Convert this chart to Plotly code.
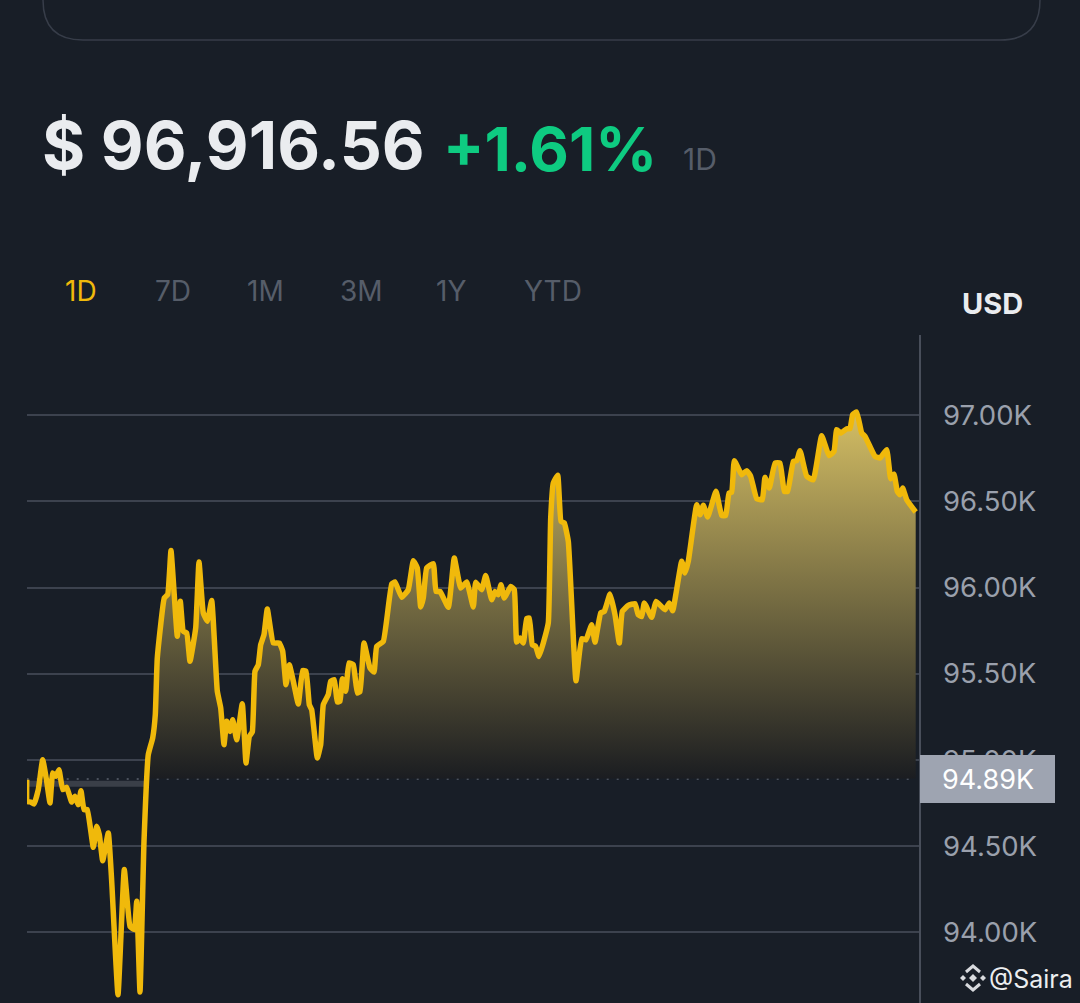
import plotly.graph_objects as go

W, H = 1080, 1003
BG = "#181e27"
LINE_GOLD = "#f0b90b"
GRID = "#3c424e"
MUTED = "#565d69"

# ---- data ----
positions = [
    26.7, 27.3, 30.7, 34, 38.3, 42.7, 46.7, 50, 52.7, 55.7, 59, 62.7, 66.7, 71.7, 75, 78.3, 81, 84, 87.3, 93.3,
    96.7, 99.3, 102.7, 108.3, 111.7, 118, 124.3, 130, 134.3, 136.7, 140, 144, 148.3, 152.7, 155.3, 157.3, 164.3,
    167.7, 171, 177.3, 180.3, 183.3, 186.7, 190, 195.7, 199, 203.3, 207.3, 211.7, 217.3, 220.7, 224, 226.7, 230,
    232.7, 236.7, 242.3, 246, 249.3, 252.3, 255, 258.3, 260.7, 264, 267.3, 273.3, 279.3, 282.7, 286, 289.3, 293.3,
    298.3, 302.7, 306, 309.3, 311.7, 317.3, 320.7, 323.3, 328.3, 330.7, 334.3, 337.3, 340, 342.3, 345.7, 349,
    353.3, 357.3, 360, 364, 370, 374, 376.7, 383.3, 391.7, 395, 401.7, 408.3, 413.3, 417.3, 420.7, 423.3, 426.7,
    433.3, 436, 440, 448.3, 454.3, 460.7, 466.7, 473.3, 475.7, 481.7, 485.7, 491.7, 495, 498.3, 501, 504.3, 510.7,
    514.3, 516.7, 520, 523.3, 526.7, 529.3, 532.3, 535.7, 539, 543.3, 548.3, 550.7, 553.3, 557.7, 561, 564.3,
    568.3, 576, 581.7, 586, 591.7, 595, 600.7, 604.3, 610, 615, 619.3, 622.3, 628.3, 635, 638.3, 641.7, 644.3,
    651.7, 656, 665, 669.3, 672.7, 681.7, 685, 688.3, 696.7, 700, 703.3, 707.7, 716, 721.7, 725.7, 729, 731.7,
    734.3, 741.7, 746.7, 750.7, 756.7, 762.3, 765, 769.3, 775, 780, 784.3, 787.7, 793.3, 796.7, 800, 806.7, 813.3,
    821.7, 829, 834, 836.7, 840.7, 846.7, 850, 852.7, 856.7, 861.7, 865, 875, 880, 886.7, 890.7, 894, 897.3, 900,
    902.7, 906.7, 915.7,
]
price_k = [
    94.886, 94.760, 94.756, 94.745, 94.828, 95.002, 94.876, 94.751, 94.925, 94.905, 94.944, 94.828, 94.842, 94.756,
    94.789, 94.741, 94.822, 94.712, 94.712, 94.493, 94.615, 94.567, 94.416, 94.577, 94.296, 93.638, 94.364, 94.035,
    94.016, 94.180, 93.654, 94.528, 95.031, 95.128, 95.263, 95.592, 95.940, 95.960, 96.215, 95.718, 95.921, 95.747,
    95.737, 95.573, 95.766, 96.149, 95.853, 95.805, 95.925, 95.399, 95.302, 95.089, 95.225, 95.166, 95.234, 95.118,
    95.327, 94.983, 95.137, 95.163, 95.515, 95.553, 95.669, 95.727, 95.876, 95.679, 95.679, 95.631, 95.437, 95.553,
    95.457, 95.325, 95.519, 95.515, 95.321, 95.292, 95.012, 95.089, 95.321, 95.379, 95.457, 95.466, 95.337, 95.341,
    95.472, 95.399, 95.563, 95.553, 95.389, 95.398, 95.679, 95.534, 95.510, 95.659, 95.688, 96.021, 96.033, 95.944,
    95.988, 96.156, 96.114, 95.888, 95.940, 96.114, 96.139, 95.978, 95.978, 95.886, 96.172, 95.998, 96.033, 95.888,
    96.031, 95.988, 96.071, 95.930, 95.978, 95.959, 96.017, 95.940, 96.007, 95.988, 95.684, 95.708, 95.679, 95.820,
    95.824, 95.669, 95.659, 95.601, 95.679, 95.795, 96.404, 96.607, 96.652, 96.385, 96.375, 96.269, 95.460, 95.704,
    95.698, 95.785, 95.684, 95.853, 95.862, 95.963, 95.843, 95.679, 95.862, 95.897, 95.907, 95.843, 95.833, 95.911,
    95.828, 95.920, 95.872, 95.911, 95.866, 96.153, 96.085, 96.153, 96.481, 96.423, 96.478, 96.410, 96.559, 96.419,
    96.419, 96.549, 96.553, 96.737, 96.655, 96.679, 96.646, 96.516, 96.510, 96.640, 96.578, 96.723, 96.723, 96.559,
    96.559, 96.733, 96.737, 96.795, 96.646, 96.626, 96.882, 96.766, 96.791, 96.917, 96.897, 96.922, 96.922, 97.004,
    97.019, 96.897, 96.878, 96.762, 96.752, 96.801, 96.632, 96.659, 96.559, 96.539, 96.578, 96.510, 96.439,
]
tick_vals = [94.0, 94.5, 95.0, 95.5, 96.0, 96.5, 97.0]
tick_text = ["94.00K", "94.50K", "95.00K", "95.50K", "96.00K", "96.50K", "97.00K"]
open_price = 94.89
period_labels = ["1D", "7D", "1M", "3M", "1Y", "YTD"]
period_left = [63, 153, 245, 338, 434, 522]


def px(x):
    return x / W


def py(y):
    return 1 - y / H


fig = go.Figure()

# baseline first so the price trace can fill down to it
fig.add_trace(go.Scatter(
    x=[positions[0], positions[-1]], y=[open_price, open_price], mode="lines",
    line=dict(color="#5b616d", width=1.5, dash="2px,8px"), hoverinfo="skip",
))
fig.add_trace(go.Scatter(
    x=positions, y=[open_price] * len(positions), mode="lines",
    line=dict(width=0), hoverinfo="skip",
))
fig.add_trace(go.Scatter(
    x=positions, y=price_k, mode="lines", fill="tonexty",
    line=dict(color=LINE_GOLD, width=5.5, shape="spline", smoothing=0.35),
    fillgradient=dict(
        type="vertical", start=open_price, stop=max(price_k),
        colorscale=[[0, "rgba(27,29,33,0)"], [0.002, "rgb(27,29,33)"], [1, "rgb(212,190,100)"]],
    ),
))

# grey smear under the start of the line
fig.add_shape(type="line", xref="x", yref="y", x0=27, x1=146, y0=94.862, y1=94.862,
              line=dict(color="#3a3f48", width=6), layer="below")

# card outline at the top
r = 40
card = (f"M {px(43)},{py(-5)} L {px(43)},{py(40 - r)} Q {px(43)},{py(40)} {px(43 + r)},{py(40)} "
        f"L {px(1040 - r)},{py(40)} Q {px(1040)},{py(40)} {px(1040)},{py(40 - r)} L {px(1040)},{py(-5)}")
fig.add_shape(type="path", xref="paper", yref="paper", path=card, line=dict(color="#373d49", width=1.5))

# current price box hides most of the 95.00K label
fig.add_shape(type="rect", xref="paper", yref="paper", x0=px(920), x1=px(1055), y0=py(803), y1=py(755),
              fillcolor="#9ea4b1", line=dict(width=0), layer="above")


def label(x, y, text, size, color, weight=400, family="Inter", anchor="left"):
    fig.add_annotation(xref="paper", yref="paper", x=px(x), y=py(y), text=text, showarrow=False,
                       xanchor=anchor, yanchor="middle", font=dict(size=size, color=color, family=family, weight=weight))


label(988, 779, "94.89K", 27, "#ffffff", anchor="center")
label(40, 145, "$ 96,916.56", 66, "#eaecef", 700)
label(441, 149, "+1.61%", 61, "#0ecb81", 700)
label(681, 159, "1D", 30, MUTED)
for i, name in enumerate(period_labels):
    label(period_left[i], 291, name, 28, LINE_GOLD if i == 0 else MUTED)
label(960, 303, "USD", 29, "#eaecef", 700)
label(987, 979, "@Saira", 25, "#eceef0")

# small diamond logo beside the watermark
logo_c = (973, 978)
for dx, dy, s in [(0, 0, 4), (-10, 0, 3), (10, 0, 3)]:
    cx, cy = logo_c[0] + dx, logo_c[1] + dy
    fig.add_shape(type="path", xref="paper", yref="paper", fillcolor="#d8dade", line=dict(width=0),
                  path=f"M {px(cx - s)},{py(cy)} L {px(cx)},{py(cy - s)} L {px(cx + s)},{py(cy)} L {px(cx)},{py(cy + s)} Z")
for sign in (-1, 1):
    cx, cy = logo_c
    fig.add_shape(type="path", xref="paper", yref="paper", line=dict(color="#d8dade", width=3),
                  path=f"M {px(cx - 7)},{py(cy + sign * 6)} L {px(cx)},{py(cy + sign * 12)} L {px(cx + 7)},{py(cy + sign * 6)}")

fig.update_layout(
    width=W, height=H, margin=dict(l=0, r=0, t=0, b=0), autosize=False,
    paper_bgcolor=BG, plot_bgcolor=BG, showlegend=False,
    font=dict(family="Inter", color="#9aa0ac"),
    xaxis=dict(domain=[px(27), px(918.5)], range=[27, 918.5], visible=False, fixedrange=True),
    yaxis=dict(
        domain=[0, py(335)], range=[93.590, 97.466], side="right",
        tickvals=tick_vals, ticktext=tick_text, ticks="", ticklabelstandoff=17,
        tickfont=dict(size=27.5, color="#9aa0ac", family="Inter"),
        showgrid=True, gridcolor=GRID, gridwidth=2, zeroline=False,
        showline=True, linecolor="#484e5a", linewidth=2, fixedrange=True,
    ),
)

fig.write_html("out.html", config=dict(displayModeBar=False), post_script="document.body.style.margin='0';")
